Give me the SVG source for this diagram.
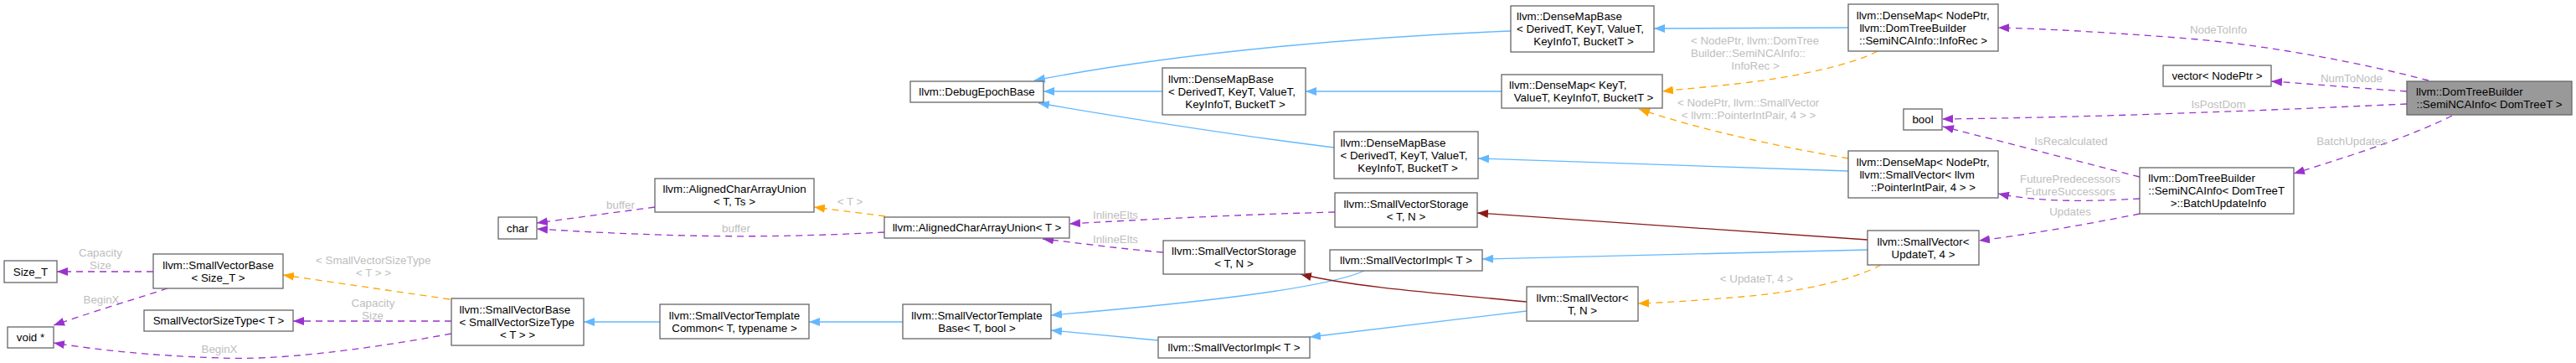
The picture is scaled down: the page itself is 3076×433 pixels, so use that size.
<svg xmlns="http://www.w3.org/2000/svg" width="3076" height="433" viewBox="0 0 3076 433">
<style>
text{font-family:"Liberation Sans",Arial,Helvetica,sans-serif;font-size:13.33px;fill:#000}
.n rect{fill:#fff;stroke:#666;stroke-width:1.3}
.m rect{fill:#999;stroke:#666;stroke-width:1.3}
.c{text-anchor:middle}
.lb{fill:#bebebe;text-anchor:middle}
.ls{fill:#bebebe}
.e path{fill:none;stroke-width:1.3}
.b{stroke:#63b8ff;marker-end:url(#mb)}
.p{stroke:#9a32cd;stroke-dasharray:8,6;marker-end:url(#mp)}
.o{stroke:#ffa500;stroke-dasharray:8,6;marker-end:url(#mo)}
.r{stroke:#8b1a1a;marker-end:url(#mr)}
</style>
<defs>
<marker id="mb" viewBox="0 0 13 10" refX="13" refY="5" markerWidth="13" markerHeight="10" orient="auto" markerUnits="userSpaceOnUse"><path d="M0,0 L13,5 L0,10 z" fill="#63b8ff"/></marker>
<marker id="mp" viewBox="0 0 13 10" refX="13" refY="5" markerWidth="13" markerHeight="10" orient="auto" markerUnits="userSpaceOnUse"><path d="M0,0 L13,5 L0,10 z" fill="#9a32cd"/></marker>
<marker id="mo" viewBox="0 0 13 10" refX="13" refY="5" markerWidth="13" markerHeight="10" orient="auto" markerUnits="userSpaceOnUse"><path d="M0,0 L13,5 L0,10 z" fill="#ffa500"/></marker>
<marker id="mr" viewBox="0 0 13 10" refX="13" refY="5" markerWidth="13" markerHeight="10" orient="auto" markerUnits="userSpaceOnUse"><path d="M0,0 L13,5 L0,10 z" fill="#8b1a1a"/></marker>
</defs>
<rect x="0" y="0" width="3076" height="433" fill="#fff"/>

<g id="connectors" class="e">
<path class="p" d="M183,324 L68,324"/>
<path class="p" d="M200,344 C170,354 110,372 64,388"/>
<path class="o" d="M537,357 L338,328"/>
<path class="p" d="M539,383 L350,383"/>
<path class="p" d="M539,398 C430,418 330,430 262,427 C180,424 120,418 64,409"/>
<path class="b" d="M788,384 L697,384"/>
<path class="b" d="M1078,384 L966,384"/>
<path class="p" d="M782,247 L641,266"/>
<path class="o" d="M1057,258 L972,247"/>
<path class="p" d="M1056,277 C980,281 900,283 820,281 C740,279 690,276 641,273"/>
<path class="p" d="M1594,253 C1480,256 1360,262 1277,267"/>
<path class="p" d="M1389,301 C1330,296 1290,290 1245,285"/>
<path class="b" d="M1629,323 C1580,345 1420,362 1255,376"/>
<path class="b" d="M1383,406 L1255,394"/>
<path class="r" d="M1823,360 C1720,350 1620,343 1553,327"/>
<path class="b" d="M1823,371 C1720,383 1620,396 1564,402"/>
<path class="o" d="M2246,316 C2210,335 2150,348 2080,354 C2030,358 1990,361 1956,362"/>
<path class="r" d="M2230,286 L1764,254"/>
<path class="b" d="M2230,298 L1770,309"/>
<path class="b" d="M2207,33 L1975,34"/>
<path class="o" d="M2242,61 C2210,78 2140,92 2090,98 C2050,103 2010,106 1985,109"/>
<path class="o" d="M2207,189 C2130,176 2030,155 1957,130"/>
<path class="b" d="M2207,204 L1765,189"/>
<path class="b" d="M1793,109 L1559,109"/>
<path class="b" d="M1388,109 L1246,109"/>
<path class="b" d="M1804,37 C1650,43 1420,60 1235,96"/>
<path class="b" d="M1593,176 C1480,162 1340,140 1240,123"/>
<path class="p" d="M2900,96 C2820,75 2700,52 2600,45 C2520,39 2440,34 2386,33"/>
<path class="p" d="M2874,109 C2800,104 2760,100 2712,97"/>
<path class="p" d="M2874,124 C2700,132 2500,140 2319,142"/>
<path class="p" d="M2928,138 C2880,162 2810,185 2739,207"/>
<path class="p" d="M2555,211 L2320,151"/>
<path class="p" d="M2555,237 C2500,240 2440,242 2386,231"/>
<path class="p" d="M2555,255 C2490,268 2420,280 2363,287"/>
</g>

<g id="edge-labels">
<text class="lb" x="120" y="306">Capacity</text>
<text class="lb" x="120" y="321">Size</text>
<text class="lb" x="121" y="361.5">BeginX</text>
<text class="ls" x="377" y="314.5">&lt; SmallVectorSizeType</text>
<text class="lb" x="446" y="329.5">&lt; T &gt; &gt;</text>
<text class="lb" x="445.5" y="365.5">Capacity</text>
<text class="lb" x="445" y="380.5">Size</text>
<text class="lb" x="262" y="420.5">BeginX</text>
<text class="lb" x="741" y="248.5">buffer</text>
<text class="lb" x="1015" y="245">&lt; T &gt;</text>
<text class="lb" x="879" y="277">buffer</text>
<text class="lb" x="1332" y="261">InlineElts</text>
<text class="lb" x="1332" y="290">InlineElts</text>
<text class="ls" x="2019" y="53">&lt; NodePtr, llvm::DomTree</text>
<text class="ls" x="2019" y="68">Builder::SemiNCAInfo::</text>
<text class="lb" x="2096" y="83">InfoRec &gt;</text>
<text class="ls" x="2003" y="127">&lt; NodePtr, llvm::SmallVector</text>
<text class="lb" x="2088" y="141.5">&lt; llvm::PointerIntPair, 4 &gt; &gt;</text>
<text class="lb" x="2097.5" y="337">&lt; UpdateT, 4 &gt;</text>
<text class="lb" x="2649" y="40">NodeToInfo</text>
<text class="lb" x="2808" y="98">NumToNode</text>
<text class="lb" x="2649" y="129">IsPostDom</text>
<text class="lb" x="2473" y="173">IsRecalculated</text>
<text class="lb" x="2808" y="173">BatchUpdates</text>
<text class="lb" x="2472" y="218">FuturePredecessors</text>
<text class="lb" x="2472" y="233">FutureSuccessors</text>
<text class="lb" x="2472" y="257">Updates</text>
</g>

<g id="n_size_t" class="n"><rect x="5" y="311" width="63" height="26"/><text class="c" x="36.5" y="328.5">Size_T</text></g>
<g id="n_voidptr" class="n"><rect x="9" y="390" width="55" height="25"/><text class="c" x="36.5" y="407">void *</text></g>
<g id="n_svbase_size_t" class="n"><rect x="183" y="303" width="155" height="41"/><text class="c" x="260.5" y="320.5">llvm::SmallVectorBase</text><text class="c" x="260.5" y="335.5">&lt; Size_T &gt;</text></g>
<g id="n_svsizetype" class="n"><rect x="172" y="370" width="178" height="25"/><text class="c" x="261" y="387">SmallVectorSizeType&lt; T &gt;</text></g>
<g id="n_svbase_svst" class="n"><rect x="539" y="356" width="158" height="56"/><text x="548.5" y="373.5">llvm::SmallVectorBase</text><text x="548.5" y="388.5">&lt; SmallVectorSizeType</text><text class="c" x="618" y="403.5">&lt; T &gt; &gt;</text></g>
<g id="n_char" class="n"><rect x="595" y="259" width="46" height="26"/><text class="c" x="618" y="276.5">char</text></g>
<g id="n_acau_t_ts" class="n"><rect x="782" y="213" width="190" height="40"/><text class="c" x="877" y="230">llvm::AlignedCharArrayUnion</text><text class="c" x="877" y="245">&lt; T, Ts &gt;</text></g>
<g id="n_svtcommon" class="n"><rect x="788" y="363" width="178" height="41"/><text class="c" x="877" y="380.5">llvm::SmallVectorTemplate</text><text class="c" x="877" y="395.5">Common&lt; T, typename &gt;</text></g>
<g id="n_acau_t" class="n"><rect x="1056" y="259" width="221" height="25"/><text class="c" x="1166.5" y="276">llvm::AlignedCharArrayUnion&lt; T &gt;</text></g>
<g id="n_svtbase" class="n"><rect x="1078" y="363" width="177" height="41"/><text class="c" x="1166.5" y="380.5">llvm::SmallVectorTemplate</text><text class="c" x="1166.5" y="395.5">Base&lt; T, bool &gt;</text></g>
<g id="n_debugepoch" class="n"><rect x="1087" y="97" width="159" height="25"/><text class="c" x="1166.5" y="114">llvm::DebugEpochBase</text></g>
<g id="n_densemapbase_mid" class="n"><rect x="1388" y="81" width="171" height="56"/><text x="1395" y="98.5">llvm::DenseMapBase</text><text x="1395" y="113.5">&lt; DerivedT, KeyT, ValueT,</text><text class="c" x="1475" y="128.5">KeyInfoT, BucketT &gt;</text></g>
<g id="n_svstorage_low" class="n"><rect x="1389" y="287" width="169" height="40"/><text class="c" x="1473.5" y="304">llvm::SmallVectorStorage</text><text class="c" x="1473.5" y="319">&lt; T, N &gt;</text></g>
<g id="n_svimpl_low" class="n"><rect x="1383" y="402" width="181" height="25"/><text class="c" x="1473.5" y="419">llvm::SmallVectorImpl&lt; T &gt;</text></g>
<g id="n_densemapbase_low" class="n"><rect x="1593" y="157" width="172" height="56"/><text x="1600.5" y="174.5">llvm::DenseMapBase</text><text x="1600.5" y="189.5">&lt; DerivedT, KeyT, ValueT,</text><text class="c" x="1681" y="204.5">KeyInfoT, BucketT &gt;</text></g>
<g id="n_svstorage_up" class="n"><rect x="1594" y="230" width="170" height="41"/><text class="c" x="1679" y="247.5">llvm::SmallVectorStorage</text><text class="c" x="1679" y="262.5">&lt; T, N &gt;</text></g>
<g id="n_svimpl_up" class="n"><rect x="1588" y="298" width="182" height="25"/><text class="c" x="1679" y="315">llvm::SmallVectorImpl&lt; T &gt;</text></g>
<g id="n_densemapbase_top" class="n"><rect x="1804" y="7" width="171" height="55"/><text x="1811" y="24">llvm::DenseMapBase</text><text x="1811" y="39">&lt; DerivedT, KeyT, ValueT,</text><text class="c" x="1891" y="54">KeyInfoT, BucketT &gt;</text></g>
<g id="n_densemap_keyt" class="n"><rect x="1793" y="89" width="192" height="40"/><text x="1802" y="106">llvm::DenseMap&lt; KeyT,</text><text class="c" x="1891" y="121">ValueT, KeyInfoT, BucketT &gt;</text></g>
<g id="n_smallvector_tn" class="n"><rect x="1823" y="342" width="133" height="41"/><text class="c" x="1889.5" y="359.5">llvm::SmallVector&lt;</text><text class="c" x="1889.5" y="374.5">T, N &gt;</text></g>
<g id="n_densemap_inforec" class="n"><rect x="2207" y="5" width="179" height="56"/><text x="2216.7" y="22.5">llvm::DenseMap&lt; NodePtr,</text><text x="2220.4" y="37.5">llvm::DomTreeBuilder</text><text class="c" x="2296.5" y="52.5">::SemiNCAInfo::InfoRec &gt;</text></g>
<g id="n_bool" class="n"><rect x="2273" y="130" width="46" height="25"/><text class="c" x="2296" y="147">bool</text></g>
<g id="n_densemap_smallvec" class="n"><rect x="2207" y="180" width="179" height="56"/><text x="2216.7" y="197.5">llvm::DenseMap&lt; NodePtr,</text><text x="2220.4" y="212.5">llvm::SmallVector&lt; llvm</text><text class="c" x="2296.5" y="227.5">::PointerIntPair, 4 &gt; &gt;</text></g>
<g id="n_smallvector_update" class="n"><rect x="2230" y="275" width="133" height="41"/><text class="c" x="2296.5" y="292.5">llvm::SmallVector&lt;</text><text class="c" x="2296.5" y="307.5">UpdateT, 4 &gt;</text></g>
<g id="n_batchupdateinfo" class="n"><rect x="2555" y="200" width="184" height="55"/><text x="2565.3" y="217">llvm::DomTreeBuilder</text><text x="2565.3" y="232">::SemiNCAInfo&lt; DomTreeT</text><text class="c" x="2649" y="247">&gt;::BatchUpdateInfo</text></g>
<g id="n_vector_nodeptr" class="n"><rect x="2583" y="78" width="129" height="25"/><text class="c" x="2647.5" y="95">vector&lt; NodePtr &gt;</text></g>
<g id="n_seminca" class="m"><rect x="2874" y="97" width="197" height="40"/><text x="2885" y="114">llvm::DomTreeBuilder</text><text class="c" x="2972.5" y="129">::SemiNCAInfo&lt; DomTreeT &gt;</text></g>
</svg>
